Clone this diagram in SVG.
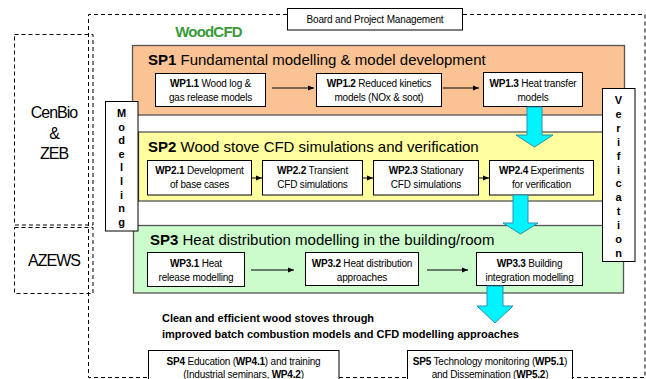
<svg xmlns="http://www.w3.org/2000/svg" width="646" height="379" viewBox="0 0 646 379">
<defs>
<marker id="ah" viewBox="0 0 10 10" refX="10" refY="5" markerWidth="6" markerHeight="6" markerUnits="userSpaceOnUse" orient="auto">
<path d="M0,1 L10,5 L0,9 z" fill="#000"/>
</marker>
<style>
text{font-family:"Liberation Sans",Arial,sans-serif;fill:#000}
.dash{fill:none;stroke:#000;stroke-width:1;stroke-dasharray:4,3}
.wp{fill:#fff;stroke:#000;stroke-width:1}
.wpt{font-size:10px;text-anchor:middle;letter-spacing:-0.2px}
.sp{stroke:#555;stroke-width:1.3}
.spt{font-size:15px;letter-spacing:0px}
.b{font-weight:bold}
.vl{font-size:11px;font-weight:bold;text-anchor:middle}
.cy{fill:#00f4ff;stroke:#2b8fb0;stroke-width:1}
.conn{stroke:#000;stroke-width:1;fill:none;marker-end:url(#ah)}
.org{font-size:16px;text-anchor:middle;letter-spacing:-1px}
</style>
</defs>
<rect width="646" height="379" fill="#fff"/>

<g id="cenbio">
<rect class="dash" x="14.5" y="34.5" width="78.5" height="190.5"/>
<text class="org" x="54" y="118">CenBio</text>
<text class="org" x="54" y="139">&amp;</text>
<text class="org" x="54" y="159">ZEB</text>
</g>
<g id="azews">
<rect class="dash" x="14.5" y="227.5" width="78.5" height="66"/>
<text class="org" x="54" y="266">AZEWS</text>
</g>

<g id="woodcfd">
<path class="dash" d="M287,14.5 H88.5 V377.5 H645 V14.5 H462"/>
<text x="208.5" y="37" font-size="15" font-weight="bold" style="fill:#3a9a3a;letter-spacing:-0.8px" text-anchor="middle">WoodCFD</text>
</g>

<g id="board">
<rect class="wp" x="287.5" y="8.5" width="175" height="21.5"/>
<text x="375" y="23" font-size="10" text-anchor="middle" letter-spacing="-0.15">Board and Project Management</text>
</g>

<g id="sp1">
<rect class="sp" x="132.5" y="45.5" width="492" height="69.5" fill="#fbc393"/>
<text class="spt" x="148" y="65"><tspan class="b">SP1</tspan> Fundamental modelling &amp; model development</text>
</g>
<g id="sp2">
<rect class="sp" x="138.5" y="132" width="486" height="69" fill="#ffffa0"/>
<text class="spt" x="148" y="152"><tspan class="b">SP2</tspan> Wood stove CFD simulations and verification</text>
</g>
<g id="sp3">
<rect class="sp" x="133.5" y="225.5" width="490" height="67.5" fill="#ccfccc"/>
<text class="spt" x="150" y="245"><tspan class="b">SP3</tspan> Heat distribution modelling in the building/room</text>
</g>

<g id="wp11">
<rect class="wp" x="155.5" y="73.5" width="110" height="33"/>
<text class="wpt" x="210.5" y="87"><tspan class="b">WP1.1</tspan> Wood log &amp;</text>
<text class="wpt" x="210.5" y="101">gas release models</text>
</g>
<g id="wp12">
<rect class="wp" x="316.5" y="73.5" width="125" height="33"/>
<text class="wpt" x="379" y="87"><tspan class="b">WP1.2</tspan> Reduced kinetics</text>
<text class="wpt" x="379" y="101">models (NOx &amp; soot)</text>
</g>
<g id="wp13">
<rect class="wp" x="483.5" y="72.5" width="99" height="34"/>
<text class="wpt" x="533" y="87"><tspan class="b">WP1.3</tspan> Heat transfer</text>
<text class="wpt" x="533" y="101">models</text>
</g>

<g id="wp21">
<rect class="wp" x="147.5" y="160.5" width="104" height="34.5"/>
<text class="wpt" x="199.5" y="174"><tspan class="b">WP2.1</tspan> Development</text>
<text class="wpt" x="199.5" y="188">of base cases</text>
</g>
<g id="wp22">
<rect class="wp" x="262.5" y="160.5" width="100" height="34.5"/>
<text class="wpt" x="312.5" y="174"><tspan class="b">WP2.2</tspan> Transient</text>
<text class="wpt" x="312.5" y="188">CFD simulations</text>
</g>
<g id="wp23">
<rect class="wp" x="373.5" y="160.5" width="105" height="34.5"/>
<text class="wpt" x="426" y="174"><tspan class="b">WP2.3</tspan> Stationary</text>
<text class="wpt" x="426" y="188">CFD simulations</text>
</g>
<g id="wp24">
<rect class="wp" x="489.5" y="160.5" width="104" height="34.5"/>
<text class="wpt" x="541.5" y="174"><tspan class="b">WP2.4</tspan> Experiments</text>
<text class="wpt" x="541.5" y="188">for verification</text>
</g>

<g id="wp31">
<rect class="wp" x="147.5" y="252.5" width="97" height="34"/>
<text class="wpt" x="196" y="267"><tspan class="b">WP3.1</tspan> Heat</text>
<text class="wpt" x="196" y="281">release modelling</text>
</g>
<g id="wp32">
<rect class="wp" x="305.5" y="252.5" width="113" height="33"/>
<text class="wpt" x="362" y="267"><tspan class="b">WP3.2</tspan> Heat distribution</text>
<text class="wpt" x="362" y="281">approaches</text>
</g>
<g id="wp33">
<rect class="wp" x="476.5" y="252.5" width="106" height="33"/>
<text class="wpt" x="529.5" y="267"><tspan class="b">WP3.3</tspan> Building</text>
<text class="wpt" x="529.5" y="281">integration modelling</text>
</g>

<g id="modelling">
<rect class="wp" x="105.5" y="101.5" width="32.5" height="129.5"/>
<text class="vl" x="121.5" y="117">M</text>
<text class="vl" x="121.5" y="130.6">o</text>
<text class="vl" x="121.5" y="144.2">d</text>
<text class="vl" x="121.5" y="157.8">e</text>
<text class="vl" x="121.5" y="171.4">l</text>
<text class="vl" x="121.5" y="185">l</text>
<text class="vl" x="121.5" y="198.6">i</text>
<text class="vl" x="121.5" y="212.2">n</text>
<text class="vl" x="121.5" y="225.8">g</text>
</g>

<g id="verification">
<rect class="wp" x="602.5" y="88.5" width="32.5" height="173"/>
<text class="vl" x="618.5" y="104">V</text>
<text class="vl" x="618.5" y="117.9">e</text>
<text class="vl" x="618.5" y="131.8">r</text>
<text class="vl" x="618.5" y="145.7">i</text>
<text class="vl" x="618.5" y="159.6">f</text>
<text class="vl" x="618.5" y="173.5">i</text>
<text class="vl" x="618.5" y="187.4">c</text>
<text class="vl" x="618.5" y="201.3">a</text>
<text class="vl" x="618.5" y="215.2">t</text>
<text class="vl" x="618.5" y="229.1">i</text>
<text class="vl" x="618.5" y="243">o</text>
<text class="vl" x="618.5" y="256.9">n</text>
</g>

<g id="connectors">
<line class="conn" x1="272" y1="88" x2="314" y2="88"/>
<line class="conn" x1="443" y1="88" x2="479" y2="88"/>
<line class="conn" x1="252" y1="178" x2="262" y2="178"/>
<line class="conn" x1="363" y1="178" x2="373" y2="178"/>
<line class="conn" x1="479" y1="178" x2="489" y2="178"/>
<line class="conn" x1="251" y1="270" x2="294" y2="270"/>
<line class="conn" x1="427" y1="270" x2="468" y2="270"/>
<polygon class="cy" points="527,107 542,107 542,135 553,135 534.5,147 516,135 527,135"/>
<polygon class="cy" points="513,195 528,195 528,223 538,223 520.5,234 503,223 513,223"/>
<polygon class="cy" points="487,286 503,286 503,306 513,306 495,323 477,306 487,306"/>
</g>

<g id="goal">
<text x="162" y="322" font-size="11" font-weight="bold">Clean and efficient wood stoves through</text>
<text x="162" y="338" font-size="11" font-weight="bold">improved batch combustion models and CFD modelling approaches</text>
</g>

<g id="sp4">
<rect class="wp" x="148.5" y="350.5" width="190.5" height="40"/>
<text class="wpt" x="243.5" y="365"><tspan class="b">SP4</tspan> Education (<tspan class="b">WP4.1</tspan>) and training</text>
<text class="wpt" x="243.5" y="378">(Industrial seminars, <tspan class="b">WP4.2</tspan>)</text>
</g>
<g id="sp5">
<rect class="wp" x="407.5" y="350.5" width="165" height="40"/>
<text class="wpt" x="490" y="365"><tspan class="b">SP5</tspan> Technology monitoring (<tspan class="b">WP5.1</tspan>)</text>
<text class="wpt" x="490" y="378">and Dissemination (<tspan class="b">WP5.2</tspan>)</text>
</g>
</svg>
